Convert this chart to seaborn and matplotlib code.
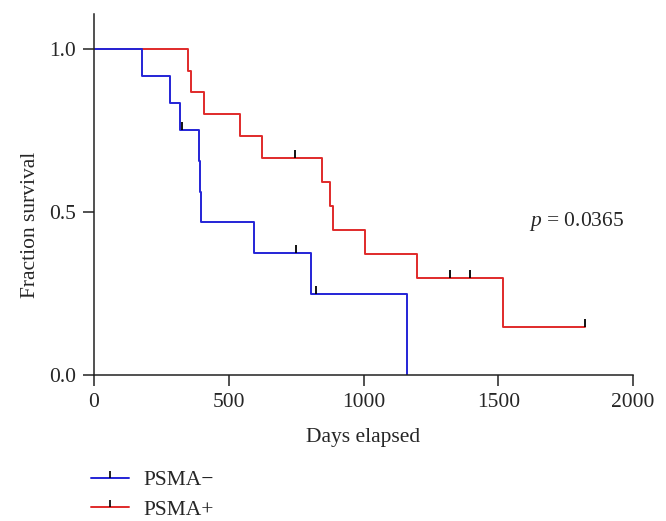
import numpy as np
import pandas as pd
import seaborn as sns
import matplotlib.pyplot as plt
from matplotlib.path import Path
from matplotlib.lines import Line2D

# Kaplan-Meier steps (days, fraction surviving)
neg_days = [0, 177, 282, 319, 391, 395, 397, 595, 806, 1163]
neg_surv = [1.0, 0.917, 0.833, 0.75, 0.656, 0.5625, 0.469, 0.375, 0.25, 0.0]
neg_cens_days = [328, 750, 825]
neg_cens_surv = [0.75, 0.375, 0.25]

pos_days = [0, 349, 359, 407, 543, 623, 846, 877, 887, 1004, 1197, 1516]
pos_surv = [1.0, 0.933, 0.867, 0.8, 0.733, 0.667, 0.593, 0.519, 0.445, 0.371, 0.297, 0.148]
pos_cens_days = [746, 1320, 1396, 1822]
pos_cens_surv = [0.667, 0.297, 0.297, 0.148]

labels = ['PSMA\u2212', 'PSMA+']
colors = ['#2424d6', '#e02a2a']
p_text = '$p$ = 0.0365'

sns.set_style('ticks')
plt.rcParams['font.family'] = ['Liberation Serif', 'DejaVu Serif']
plt.rcParams['mathtext.fontset'] = 'custom'
plt.rcParams['mathtext.it'] = 'Liberation Serif:italic'
plt.rcParams['mathtext.rm'] = 'Liberation Serif'
fs = 15.5

# curves end at last follow-up (last censor for PSMA+)
df_neg = pd.DataFrame({'days': neg_days, 'surv': neg_surv})
df_pos = pd.DataFrame({'days': pos_days + [pos_cens_days[-1]],
                       'surv': pos_surv + [pos_surv[-1]]})

# censor tick: short vertical line going up from the curve
tick = Path([(0, 0), (0, 1)])

fig = plt.figure(figsize=(6.66, 5.21), dpi=100)
ax = fig.add_axes([0.1411, 0.2802, 0.8094, 0.6928])

sns.lineplot(data=df_pos, x='days', y='surv', color=colors[1], lw=1.4,
             drawstyle='steps-post', estimator=None, sort=False, ax=ax)
sns.lineplot(data=df_neg, x='days', y='surv', color=colors[0], lw=1.4,
             drawstyle='steps-post', estimator=None, sort=False, ax=ax)
ax.plot(pos_cens_days, pos_cens_surv, ls='none', marker=tick, ms=12,
        mec='black', mew=1.3)
ax.plot(neg_cens_days, neg_cens_surv, ls='none', marker=tick, ms=12,
        mec='black', mew=1.3)

ax.set_xlim(0, 2000)
ax.set_ylim(0, 1.107)
ax.set_xticks([0, 500, 1000, 1500, 2000])
ax.set_yticks([0.0, 0.5, 1.0])
ax.set_yticklabels(['0.0', '0.5', '1.0'])
ax.tick_params(length=8, width=1.1, color='#222222', labelsize=fs, pad=5)
for s in ['left', 'bottom']:
    ax.spines[s].set_linewidth(1.1)
    ax.spines[s].set_color('#222222')
sns.despine(ax=ax)

ax.set_xlabel('Days elapsed', fontsize=fs)
ax.set_ylabel('Fraction survival', fontsize=fs)
ax.xaxis.set_label_coords(0.5, -0.148)
ax.yaxis.set_label_coords(-0.1, 0.4155)

ax.text(1615, 0.457, p_text, fontsize=fs, ha='left', va='baseline')

handles = [Line2D([], [], color=c, lw=1.4, marker=tick, ms=10,
                  mec='black', mew=1.2) for c in colors]
fig.legend(handles, labels, loc='center left',
           bbox_to_anchor=(91 / 666, 1 - 495 / 521), frameon=False,
           fontsize=fs, handlelength=1.75, handletextpad=0.7,
           labelspacing=0.45, borderpad=0, borderaxespad=0, numpoints=1)

fig.savefig('out.png', dpi=100)
